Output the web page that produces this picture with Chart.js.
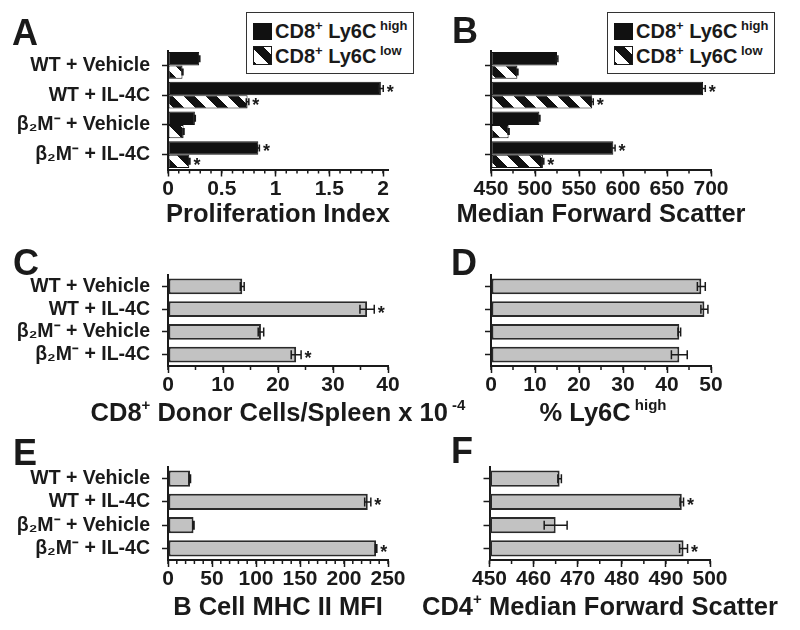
<!DOCTYPE html>
<html><head><meta charset="utf-8">
<script src="https://cdn.jsdelivr.net/npm/chart.js@4.4.1/dist/chart.umd.min.js"></script>
<style>
html,body{margin:0;padding:0;background:#fff;}
#wrap{position:relative;width:800px;height:630px;overflow:hidden;font-family:"Liberation Sans",Arial,sans-serif;color:#1a1a1a;}
canvas.panel{position:absolute;left:0;top:0;}
.letter{position:absolute;font-weight:bold;font-size:36px;line-height:36px;}
.title{position:absolute;font-weight:bold;font-size:25.5px;line-height:26px;white-space:nowrap;transform:translateX(-50%);}
.title sup{font-size:15px;line-height:0;vertical-align:0;position:relative;top:-11px;}
.legend{position:absolute;width:168px;height:62px;border:1.5px solid #333;box-sizing:border-box;background:#fff;}
.legend .sw{position:absolute;left:6px;width:19px;}
.legend .lt{position:absolute;left:28px;font-weight:bold;font-size:20px;line-height:20px;white-space:nowrap;}
.legend .lt sup{font-size:13px;line-height:0;vertical-align:0;position:relative;top:-8px;}
</style></head>
<body><div id="wrap">
<canvas class="panel" id="cA" width="800" height="630"></canvas>
<canvas class="panel" id="cB" width="800" height="630"></canvas>
<canvas class="panel" id="cC" width="800" height="630"></canvas>
<canvas class="panel" id="cD" width="800" height="630"></canvas>
<canvas class="panel" id="cE" width="800" height="630"></canvas>
<canvas class="panel" id="cF" width="800" height="630"></canvas>

<div class="letter" style="left:12px;top:15px">A</div>
<div class="letter" style="left:452px;top:13px">B</div>
<div class="letter" style="left:13px;top:245px">C</div>
<div class="letter" style="left:451px;top:245px">D</div>
<div class="letter" style="left:13px;top:435px">E</div>
<div class="letter" style="left:451px;top:433px">F</div>

<div class="title" style="left:278px;top:200px">Proliferation Index</div>
<div class="title" style="left:601px;top:200px">Median Forward Scatter</div>
<div class="title" style="left:278px;top:399px">CD8<sup>+</sup> Donor Cells/Spleen x 10<sup>&nbsp;-4</sup></div>
<div class="title" style="left:603px;top:399px">% Ly6C<sup>&nbsp;high</sup></div>
<div class="title" style="left:278px;top:593px">B Cell MHC II MFI</div>
<div class="title" style="left:600px;top:593px">CD4<sup>+</sup> Median Forward Scatter</div>

<div class="legend" style="left:246px;top:12px">
  <div class="sw" style="top:10px;height:17px;background:#111"></div>
  <canvas class="sw hatchsw" width="19" height="19" style="top:33px;height:19px"></canvas>
  <div class="lt" style="top:8px">CD8<sup>+</sup> Ly6C<sup>&nbsp;high</sup></div>
  <div class="lt" style="top:33px">CD8<sup>+</sup> Ly6C<sup>&nbsp;low</sup></div>
</div>
<div class="legend" style="left:607px;top:12px">
  <div class="sw" style="top:10px;height:17px;background:#111"></div>
  <canvas class="sw hatchsw" width="19" height="19" style="top:33px;height:19px"></canvas>
  <div class="lt" style="top:8px">CD8<sup>+</sup> Ly6C<sup>&nbsp;high</sup></div>
  <div class="lt" style="top:33px">CD8<sup>+</sup> Ly6C<sup>&nbsp;low</sup></div>
</div>
</div>
<script>
// ---------------- data ----------------
const categories = ['WT + Vehicle', 'WT + IL-4C', 'β₂M⁻ + Vehicle', 'β₂M⁻ + IL-4C'];

// A: Proliferation Index
const profHigh = [0.29, 1.98, 0.25, 0.84];
const profHighErr = [0.006, 0.022, 0.004, 0.01];
const profHighSig = [false, true, false, true];
const profLow = [0.135, 0.74, 0.145, 0.198];
const profLowErr = [0.004, 0.012, 0.004, 0.006];
const profLowSig = [false, true, false, true];
const profTicks = [0, 0.5, 1, 1.5, 2];

// B: Median Forward Scatter
const fscHigh = [525, 691, 505, 589];
const fscHighErr = [1, 2.5, 0.6, 2];
const fscHighSig = [false, true, false, true];
const fscLow = [480, 565, 470, 509];
const fscLowErr = [0.6, 1.2, 0.6, 1.0];
const fscLowSig = [false, true, false, true];
const fscTicks = [450, 500, 550, 600, 650, 700];

// C: CD8+ donor cells / spleen x 10^-4
const donorCells = [13.5, 36.2, 16.9, 23.3];
const donorCellsErr = [0.35, 1.3, 0.5, 0.9];
const donorCellsSig = [false, true, false, true];
const donorTicks = [0, 10, 20, 30, 40];

// D: % Ly6C high
const ly6cHigh = [47.8, 48.5, 42.8, 42.8];
const ly6cHighErr = [0.9, 0.8, 0.3, 1.8];
const ly6cHighSig = [false, false, false, false];
const ly6cTicks = [0, 10, 20, 30, 40, 50];

// E: B cell MHC II MFI
const mhcII = [25, 227, 29, 236.5];
const mhcIIErr = [0.6, 3.5, 0.6, 0.8];
const mhcIISig = [false, true, false, true];
const mhcTicks = [0, 50, 100, 150, 200, 250];

// F: CD4+ median forward scatter
const cd4Fsc = [465.9, 493.6, 465.0, 494.0];
const cd4FscErr = [0.4, 0.4, 2.6, 0.9];
const cd4FscSig = [false, true, false, true];
const cd4Ticks = [450, 460, 470, 480, 490, 500];

// ---------------- styling helpers ----------------
const INK = '#1a1a1a';
const FONT = '"Liberation Sans", Arial, sans-serif';
const GREY = '#c2c2c2';

function makeHatch(period) {
  const c = document.createElement('canvas');
  c.width = period; c.height = period;
  const g = c.getContext('2d');
  const img = g.createImageData(period, period);
  for (let y = 0; y < period; y++) for (let x = 0; x < period; x++) {
    const d = (((x - y) % period) + period) % period;
    const v = d < period / 2 ? 17 : 255;
    const k = (y * period + x) * 4;
    img.data[k] = v; img.data[k + 1] = v; img.data[k + 2] = v; img.data[k + 3] = 255;
  }
  g.putImageData(img, 0, 0);
  return c;
}
const hatchTile = makeHatch(22);

document.querySelectorAll('.hatchsw').forEach(cv => {
  const g = cv.getContext('2d');
  g.fillStyle = g.createPattern(makeHatch(24), 'repeat');
  g.translate(-2, 0);
  g.fillRect(0, 0, 24, 24);
  g.setTransform(1, 0, 0, 1, 0, 0);
  g.strokeStyle = INK; g.lineWidth = 1;
  g.strokeRect(0.5, 0.5, cv.width - 1, cv.height - 1);
});

const errorBarPlugin = {
  id: 'errorBars',
  afterDatasetsDraw(chart, args, opts) {
    const ctx = chart.ctx, xs = chart.scales.x;
    chart.data.datasets.forEach((ds, di) => {
      const meta = chart.getDatasetMeta(di);
      meta.data.forEach((bar, i) => {
        const v = ds.data[i], e = ds.errors[i];
        const x1 = xs.getPixelForValue(v - e), x2 = xs.getPixelForValue(v + e);
        const y = bar.y, h = opts.cap;
        ctx.save();
        ctx.strokeStyle = INK; ctx.lineWidth = 1.5;
        ctx.beginPath();
        ctx.moveTo(x1, y); ctx.lineTo(x2, y);
        ctx.moveTo(x1, y - h); ctx.lineTo(x1, y + h);
        ctx.moveTo(x2, y - h); ctx.lineTo(x2, y + h);
        ctx.stroke();
        if (ds.sig && ds.sig[i]) {
          ctx.fillStyle = INK;
          ctx.font = 'bold 18px ' + FONT;
          ctx.textAlign = 'center';
          ctx.textBaseline = 'alphabetic';
          ctx.fillText('*', x2 + 7, y + 9.5);
        }
        ctx.restore();
      });
    });
  }
};

const minorTickPlugin = {
  id: 'minorTicks',
  afterDraw(chart, args, opts) {
    const xs = chart.scales.x, ctx = chart.ctx, y0 = chart.chartArea.bottom;
    ctx.save();
    ctx.strokeStyle = INK; ctx.lineWidth = 1.5;
    ctx.beginPath();
    for (let v = opts.from; v <= opts.to + 1e-9; v += opts.step) {
      const x = xs.getPixelForValue(v);
      ctx.moveTo(x, y0); ctx.lineTo(x, y0 + 4);
    }
    ctx.stroke();
    ctx.restore();
  }
};

const X_H = 40, CW = 800, CH = 630;

function makeChart(id, area, o) {
  return new Chart(document.getElementById(id), {
    type: 'bar',
    data: { labels: categories, datasets: o.datasets },
    options: {
      indexAxis: 'y', responsive: false, animation: false, events: [],
      layout: { padding: { left: 0, top: area.t, right: CW - area.r, bottom: CH - area.b - X_H } },
      datasets: { bar: { categoryPercentage: o.catPct, barPercentage: 1 } },
      plugins: {
        legend: { display: false }, tooltip: { enabled: false },
        errorBars: { cap: o.cap },
        minorTicks: o.minor
      },
      scales: {
        x: {
          type: 'linear', min: o.min, max: o.max,
          afterFit(s) { s.height = X_H; },
          afterBuildTicks(s) { s.ticks = o.ticks.map(v => ({ value: v })); },
          grid: { drawOnChartArea: false, drawTicks: true, tickLength: 7, tickWidth: 1.5, tickColor: INK },
          border: { display: true, color: INK, width: 2 },
          ticks: { font: { family: FONT, size: 21, weight: 'bold' }, color: INK, padding: 0,
                   maxRotation: 0, autoSkip: false, callback: v => String(v) }
        },
        y: {
          type: 'category', offset: true,
          afterFit(s) { s.width = area.l; },
          grid: { offset: false, drawOnChartArea: false, drawTicks: true, tickLength: 6, tickWidth: 1.5, tickColor: INK },
          border: { display: true, color: INK, width: 2 },
          ticks: { display: o.showLabels, autoSkip: false, font: { family: FONT, size: 19.5, weight: 'bold' }, color: INK, padding: 12 }
        }
      }
    },
    plugins: [errorBarPlugin, minorTickPlugin]
  });
}

function pairSets(hi, hiE, hiS, lo, loE, loS, base) {
  return [
    { label: 'CD8+ Ly6C high', data: hi, errors: hiE, sig: hiS, base: base,
      backgroundColor: '#111', borderColor: '#111', borderWidth: 1, borderSkipped: false },
    { label: 'CD8+ Ly6C low', data: lo, errors: loE, sig: loS, base: base,
      backgroundColor: document.createElement('canvas').getContext('2d').createPattern(hatchTile, 'repeat'),
      borderColor: '#111', borderWidth: 1, borderSkipped: false }
  ];
}
function greySet(vals, errs, sig, base) {
  return [{ label: 'value', data: vals, errors: errs, sig: sig, base: base,
    backgroundColor: GREY, borderColor: '#2a2a2a', borderWidth: 2, borderSkipped: false }];
}

makeChart('cA', { l: 168, t: 50.5, r: 388.4, b: 169.5 }, {
  datasets: pairSets(profHigh, profHighErr, profHighSig, profLow, profLowErr, profLowSig, 0),
  catPct: 0.9, cap: 3.5, min: 0, max: 2.05, ticks: profTicks, showLabels: true,
  minor: { from: 0, to: 2, step: 0.1 }
});
makeChart('cB', { l: 491, t: 50.5, r: 711, b: 169.5 }, {
  datasets: pairSets(fscHigh, fscHighErr, fscHighSig, fscLow, fscLowErr, fscLowSig, 450),
  catPct: 0.9, cap: 3.5, min: 450, max: 700, ticks: fscTicks, showLabels: false,
  minor: { from: 450, to: 700, step: 25 }
});
makeChart('cC', { l: 168, t: 275, r: 388, b: 366 }, {
  datasets: greySet(donorCells, donorCellsErr, donorCellsSig, 0),
  catPct: 0.7, cap: 4.5, min: 0, max: 40, ticks: donorTicks, showLabels: true,
  minor: { from: 0, to: 40, step: 5 }
});
makeChart('cD', { l: 491, t: 275, r: 711, b: 366 }, {
  datasets: greySet(ly6cHigh, ly6cHighErr, ly6cHighSig, 0),
  catPct: 0.7, cap: 4.5, min: 0, max: 50, ticks: ly6cTicks, showLabels: false,
  minor: { from: 0, to: 50, step: 5 }
});
makeChart('cE', { l: 168, t: 467, r: 388, b: 560 }, {
  datasets: greySet(mhcII, mhcIIErr, mhcIISig, 0),
  catPct: 0.7, cap: 4.5, min: 0, max: 250, ticks: mhcTicks, showLabels: true,
  minor: { from: 0, to: 250, step: 10 }
});
makeChart('cF', { l: 489.5, t: 467, r: 710, b: 560 }, {
  datasets: greySet(cd4Fsc, cd4FscErr, cd4FscSig, 450),
  catPct: 0.7, cap: 4.5, min: 450, max: 500, ticks: cd4Ticks, showLabels: false,
  minor: { from: 450, to: 500, step: 5 }
});
</script>
</body></html>
